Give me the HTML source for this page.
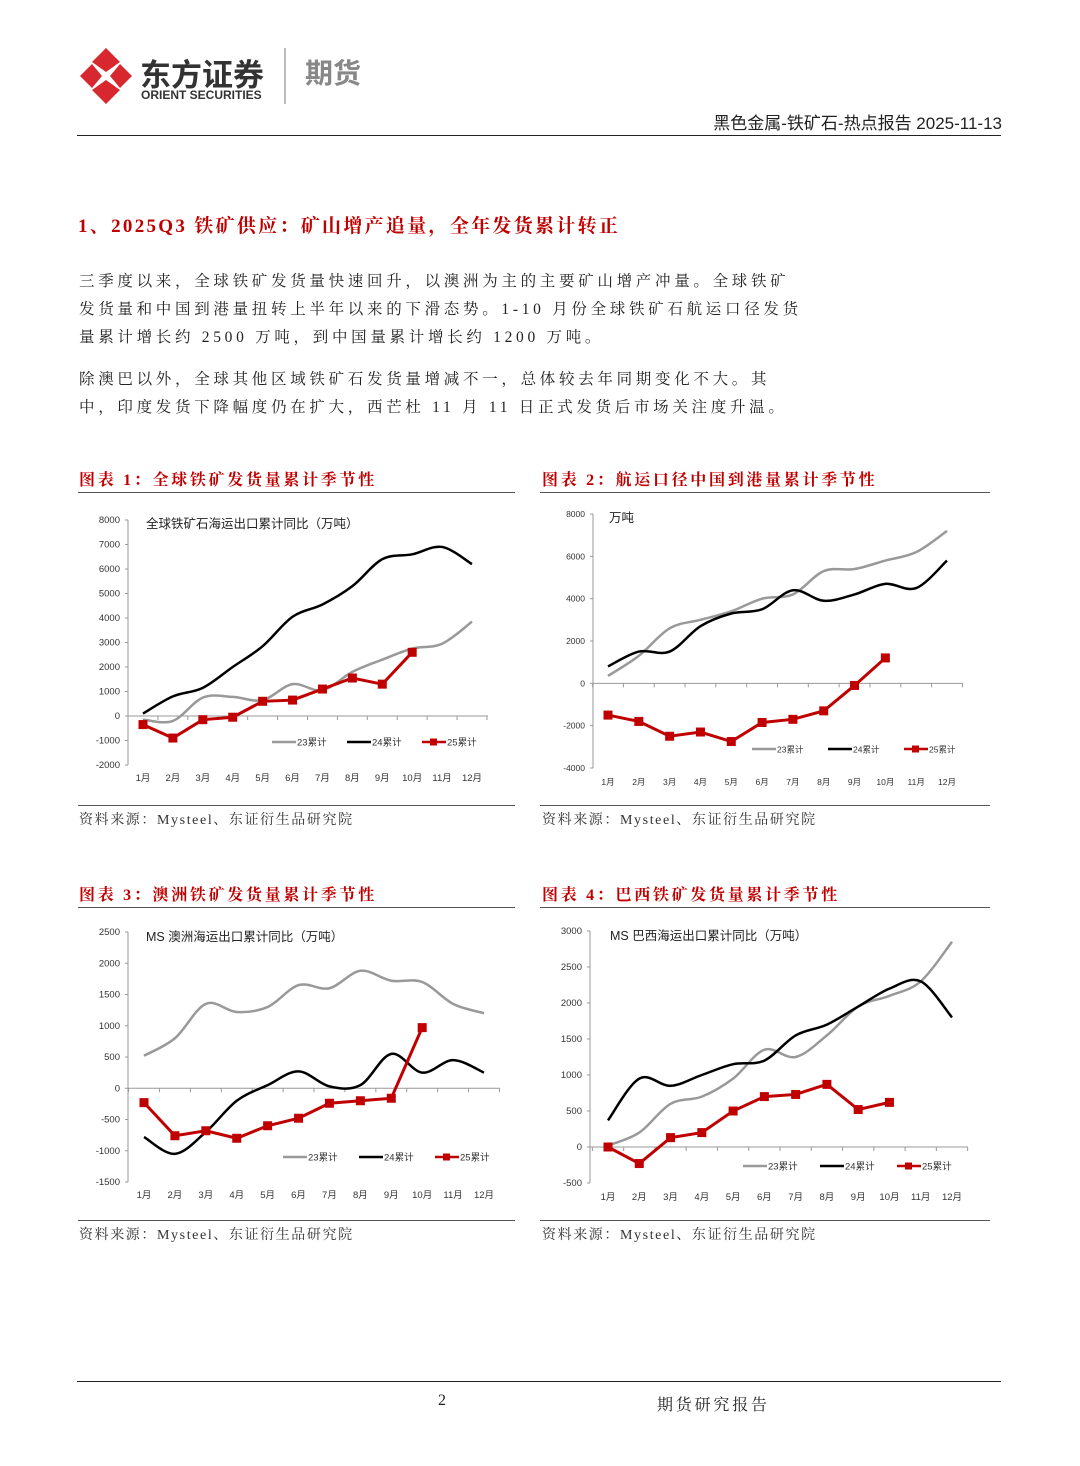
<!DOCTYPE html>
<html><head><meta charset="utf-8"><style>
body{margin:0;background:#fff;}
#pg{position:relative;width:1080px;height:1466px;overflow:hidden;font-family:"Liberation Serif","Noto Serif CJK SC",serif;color:#222;}
.abs{position:absolute;white-space:nowrap;}
.p{font-size:15.5px;letter-spacing:3.7px;left:79px;}
.ct{font-size:16px;font-weight:bold;color:#c00000;letter-spacing:2.7px;}
.src{font-size:14px;color:#333;letter-spacing:1.6px;}
.hr{position:absolute;height:1px;background:#222;}
svg text{font-family:"Liberation Sans","Noto Sans CJK SC",sans-serif;}
</style></head><body>
<div id="pg">
<svg class="abs" style="left:76px;top:46px" width="60" height="60">
<g fill="#d7282f"><path d="M30 2 L44 16 L30 26 L16 16Z"/><path d="M4 30 L16 18 L26 30 L16 42Z"/><path d="M56 30 L44 18 L34 30 L44 42Z"/><path d="M30 58 L44 44 L30 34 L16 44Z"/></g></svg>
<div class="abs" style="left:140px;top:50px;font-size:31px;font-weight:bold;font-family:'Noto Sans CJK SC',sans-serif;color:#333">东方证券</div>
<div class="abs" style="left:141px;top:88px;font-size:12px;font-weight:bold;font-family:'Liberation Sans',sans-serif;color:#333">ORIENT SECURITIES</div>
<div class="abs" style="left:284px;top:48px;width:2px;height:56px;background:#bbb"></div>
<div class="abs" style="left:305px;top:52px;font-size:28px;font-weight:bold;font-family:'Noto Sans CJK SC',sans-serif;color:#888">期货</div>
<div class="abs" style="right:78px;top:109px;font-size:17px;font-family:'Liberation Sans','Noto Sans CJK SC',sans-serif">黑色金属-铁矿石-热点报告 2025-11-13</div>
<div class="hr" style="left:77px;top:135px;width:924px"></div>
<div class="abs" style="left:78px;top:211px;font-size:19px;font-weight:bold;color:#c00000;letter-spacing:2.3px">1、2025Q3 铁矿供应：矿山增产追量，全年发货累计转正</div>
<div class="abs p" style="top:269px">三季度以来，全球铁矿发货量快速回升，以澳洲为主的主要矿山增产冲量。全球铁矿</div>
<div class="abs p" style="top:297px">发货量和中国到港量扭转上半年以来的下滑态势。1-10 月份全球铁矿石航运口径发货</div>
<div class="abs p" style="top:325px">量累计增长约 2500 万吨，到中国量累计增长约 1200 万吨。</div>
<div class="abs p" style="top:367px">除澳巴以外，全球其他区域铁矿石发货量增减不一，总体较去年同期变化不大。其</div>
<div class="abs p" style="top:395px">中，印度发货下降幅度仍在扩大，西芒杜 11 月 11 日正式发货后市场关注度升温。</div>

<div class="abs ct" style="left:79px;top:467px">图表 1：全球铁矿发货量累计季节性</div>
<div class="abs ct" style="left:542px;top:467px">图表 2：航运口径中国到港量累计季节性</div>
<div class="abs ct" style="left:79px;top:882px">图表 3：澳洲铁矿发货量累计季节性</div>
<div class="abs ct" style="left:542px;top:882px">图表 4：巴西铁矿发货量累计季节性</div>
<div class="hr" style="left:78px;top:492px;width:437px;background:#555"></div>
<div class="hr" style="left:540px;top:492px;width:450px;background:#555"></div>
<div class="hr" style="left:78px;top:907px;width:437px;background:#555"></div>
<div class="hr" style="left:540px;top:907px;width:450px;background:#555"></div>
<div class="hr" style="left:78px;top:805px;width:437px;background:#555"></div>
<div class="hr" style="left:540px;top:805px;width:450px;background:#555"></div>
<div class="hr" style="left:78px;top:1220px;width:437px;background:#555"></div>
<div class="hr" style="left:540px;top:1220px;width:450px;background:#555"></div>
<div class="abs src" style="left:79px;top:809px">资料来源：Mysteel、东证衍生品研究院</div>
<div class="abs src" style="left:542px;top:809px">资料来源：Mysteel、东证衍生品研究院</div>
<div class="abs src" style="left:79px;top:1224px">资料来源：Mysteel、东证衍生品研究院</div>
<div class="abs src" style="left:542px;top:1224px">资料来源：Mysteel、东证衍生品研究院</div>

<svg id="charts" class="abs" style="left:0;top:0" width="1080" height="1466"></svg>

<div class="hr" style="left:77px;top:1381px;width:924px"></div>
<div class="abs" style="left:438px;top:1392px;font-size:16px">2</div>
<div class="abs" style="left:657px;top:1392px;font-size:16px;letter-spacing:2.8px">期货研究报告</div>
</div>
<script>
const months=["1月","2月","3月","4月","5月","6月","7月","8月","9月","10月","11月","12月"];
const legendLabels=["23累计","24累计","25累计"];
const c1Ticks=[8000,7000,6000,5000,4000,3000,2000,1000,0,-1000,-2000];
const c1s23=[-150,-200,750,780,650,1300,1050,1800,2300,2750,2950,3850];
const c1s24=[100,800,1150,2000,2850,4050,4550,5300,6400,6600,6900,6200];
const c1s25=[-350,-900,-150,-50,600,650,1100,1550,1300,2600];
const c2Ticks=[8000,6000,4000,2000,0,-2000,-4000];
const c2s23=[350,1300,2600,3000,3400,4000,4200,5300,5400,5800,6200,7200];
const c2s24=[800,1500,1500,2700,3300,3500,4400,3900,4200,4700,4500,5800];
const c2s25=[-1500,-1800,-2500,-2300,-2750,-1850,-1700,-1300,-100,1200];
const c3Ticks=[2500,2000,1500,1000,500,0,-500,-1000,-1500];
const c3s23=[520,800,1350,1220,1300,1650,1600,1880,1720,1700,1350,1200];
const c3s24=[-780,-1050,-700,-200,50,270,30,50,550,250,450,250];
const c3s25=[-230,-760,-680,-800,-600,-480,-240,-200,-160,970];
const c4Ticks=[3000,2500,2000,1500,1000,500,0,-500];
const c4s23=[20,200,600,700,950,1350,1250,1550,1950,2100,2300,2850];
const c4s24=[370,950,850,1000,1150,1200,1550,1700,1950,2200,2300,1800];
const c4s25=[0,-230,130,200,500,700,730,870,520,620];

const NS="http://www.w3.org/2000/svg";
const root=document.getElementById('charts');
function mk(tag,at,parent){const e=document.createElementNS(NS,tag);for(const k in at)e.setAttribute(k,at[k]);(parent||root).appendChild(e);return e;}
function smooth(pts){let d="M"+pts[0][0]+" "+pts[0][1];for(let i=0;i<pts.length-1;i++){const p0=pts[i-1]||pts[i],p1=pts[i],p2=pts[i+1],p3=pts[i+2]||p2;const c1x=p1[0]+(p2[0]-p0[0])/6,c1y=p1[1]+(p2[1]-p0[1])/6,c2x=p2[0]-(p3[0]-p1[0])/6,c2y=p2[1]-(p3[1]-p1[1])/6;d+=` C${c1x} ${c1y} ${c2x} ${c2y} ${p2[0]} ${p2[1]}`;}return d;}
function chart(id,cfg,ticks,s23,s24,s25){
  const g=mk('g',{});
  
  
  const maxV=ticks[0],minV=ticks[ticks.length-1];
  const y=v=>cfg.yTop+(maxV-v)/(maxV-minV)*(cfg.yBot-cfg.yTop);
  const x=i=>cfg.x1+i*(cfg.x12-cfg.x1)/11;
  const step=(cfg.x12-cfg.x1)/11;
  mk('line',{x1:cfg.ax,y1:cfg.yTop,x2:cfg.ax,y2:cfg.yBot,stroke:'#999','stroke-width':1},g);
  ticks.forEach(t=>{const ty=y(t);
    const tl=mk('text',{x:cfg.ax-8,y:ty+3,'font-size':cfg.fs,'text-anchor':'end',fill:'#333'},g);tl.textContent=t;
    
    
    mk('line',{x1:cfg.ax-3,y1:ty,x2:cfg.ax,y2:ty,stroke:'#999'},g);});
  const zy=y(0);
  const xa=mk('line',{x1:cfg.ax,y1:zy,x2:cfg.xEnd,y2:zy,stroke:'#999'},g);
  
  
  for(let i=0;i<=12;i++){const tx=cfg.x1-step/2+i*step;mk('line',{x1:tx,y1:zy,x2:tx,y2:zy+4,stroke:'#999'},g);}
  months.forEach((m,i)=>{const t=mk('text',{x:x(i),y:cfg.labY,'font-size':cfg.fs,'text-anchor':'middle',fill:'#333'},g);t.textContent=m;
    
    });
  const tt=mk('text',{x:cfg.tx,y:cfg.ty,'font-size':12.5,fill:'#222'},g);tt.textContent=cfg.title;
  
  
  const l23=mk('path',{d:smooth(s23.map((v,i)=>[x(i),y(v)])),fill:'none',stroke:'#999','stroke-width':2.5},g);
  
  
  const l24=mk('path',{d:smooth(s24.map((v,i)=>[x(i),y(v)])),fill:'none',stroke:'#000','stroke-width':2.5},g);
  
  
  const p25=s25.map((v,i)=>x(i)+","+y(v)).join(" ");
  const l25=mk('polyline',{points:p25,fill:'none',stroke:'#c00000','stroke-width':3},g);
  
  
  s25.forEach((v,i)=>{const r=mk('rect',{x:x(i)-4.5,y:y(v)-4.5,width:9,height:9,fill:'#c00000'},g);
    
    });
  const cols=['#999','#000','#c00000'];
  legendLabels.forEach((lb,i)=>{const lx=cfg.lgX+i*cfg.lgStep;
    mk('line',{x1:lx,y1:cfg.lgY,x2:lx+24,y2:cfg.lgY,stroke:cols[i],'stroke-width':2.5},g);
    if(i==2)mk('rect',{x:lx+8,y:cfg.lgY-3.5,width:7,height:7,fill:cols[i]},g);
    const t=mk('text',{x:lx+25,y:cfg.lgY+3.5,'font-size':cfg.fs,fill:'#333'},g);t.textContent=lb;
    
    });
}
chart('chart1',{ax:128,yTop:520,yBot:765,x1:143,x12:472,xEnd:488,labY:781,fs:9.5,tx:146,ty:528,title:'全球铁矿石海运出口累计同比（万吨）',lgX:272,lgStep:75,lgY:742},c1Ticks,c1s23,c1s24,c1s25);
chart('chart2',{ax:593,yTop:514,yBot:768,x1:608,x12:947,xEnd:963,labY:785,fs:8.5,tx:609,ty:522,title:'万吨',lgX:752,lgStep:76,lgY:749},c2Ticks,c2s23,c2s24,c2s25);
chart('chart3',{ax:128,yTop:932,yBot:1182,x1:144,x12:484,xEnd:500,labY:1198,fs:9.5,tx:146,ty:941,title:'MS 澳洲海运出口累计同比（万吨）',lgX:283,lgStep:76,lgY:1157},c3Ticks,c3s23,c3s24,c3s25);
chart('chart4',{ax:590,yTop:931,yBot:1183,x1:608,x12:952,xEnd:968,labY:1200,fs:9.5,tx:610,ty:940,title:'MS 巴西海运出口累计同比（万吨）',lgX:743,lgStep:77,lgY:1166},c4Ticks,c4s23,c4s24,c4s25);
</script>
</body></html>
